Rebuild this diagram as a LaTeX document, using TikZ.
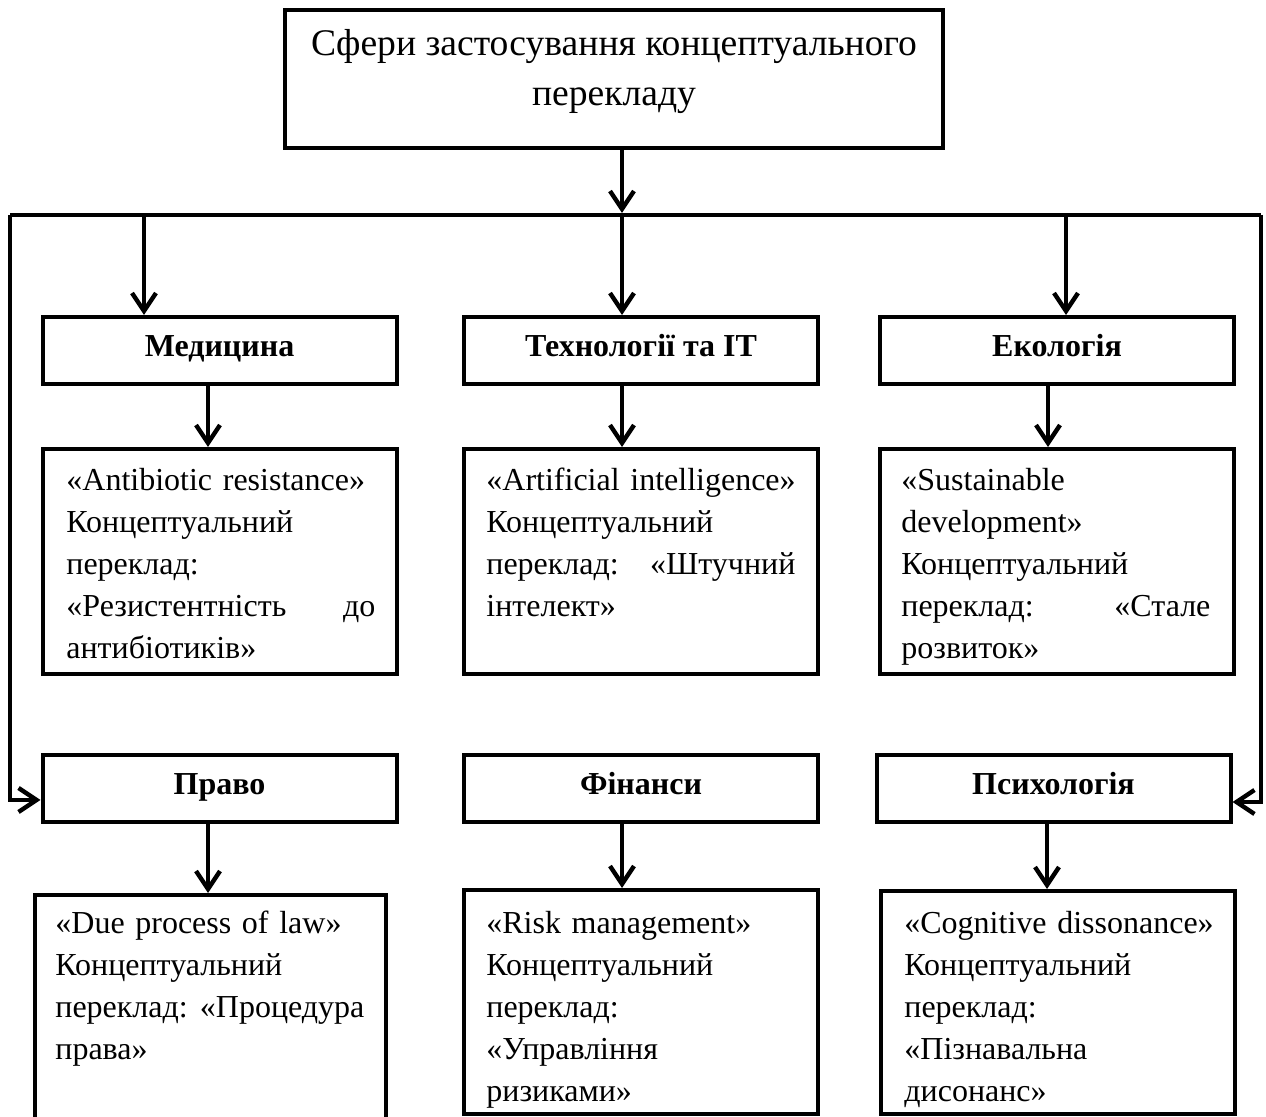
\documentclass[tikz,border=0pt]{standalone}
\usepackage{fontspec}
\setmainfont{Liberation Serif}
\usetikzlibrary{arrows.meta, positioning, calc}

\tikzset{
  hbox/.style={draw, line width=2pt, minimum width=177pt, minimum height=33.5pt, inner sep=0pt,
    text height=10pt, text depth=3.5pt, font=\fontsize{16}{21}\selectfont\bfseries},
  tbox/.style={draw, line width=2pt, minimum width=177pt, inner sep=0pt},
  txt/.style={anchor=north west, inner sep=0pt, text width=154.5pt, align=left,
    font=\fontsize{16}{21}\selectfont},
  arr/.style={line width=2.2pt, -{Straight Barb[length=9pt, width=12pt]}},
}

\begin{document}
\begin{tikzpicture}[x=0.5pt, y=-0.5pt]
\useasboundingbox (0,0) rectangle (1266,1117);
\clip (0,0) rectangle (1266,1117);

% top box
\node[draw, line width=2.4pt, minimum width=329pt, minimum height=69pt] (top) at (614,79) {};
\node[anchor=north, inner sep=0pt, align=center, font=\fontsize{18.8}{25}\selectfont] (title) at (614,20)
  {\strut Сфери застосування концептуального\\перекладу};

% headings
\node[hbox] (med)   at (219.5,350.5) {Медицина};
\node[hbox] (tech)  at (641,350.5)   {Технології та ІТ};
\node[hbox] (eco)   at (1057,350.5)  {Екологія};
\node[hbox] (law)   at (219.5,788.5) {Право};
\node[hbox] (fin)   at (641,788.5)   {Фінанси};
\node[hbox] (psy)   at (1053.5,788.5){Психологія};

% frames of the examples
\node[tbox, minimum height=112.5pt] (medbox)  at (219.5,561.5) {};
\node[tbox, minimum height=112.5pt] (techbox) at (641,561.5)   {};
\node[tbox, minimum height=112.5pt] (ecobox)  at (1057,561.5)  {};
\node[tbox, minimum width=175.5pt, minimum height=115pt] (lawbox) at (210.5,1010) {};
\node[tbox, minimum height=112pt]   (finbox)  at (641,1002)    {};
\node[tbox, minimum height=111.5pt] (psybox)  at (1058,1002.5) {};

% examples
\node[txt] (medtxt) at (66,460.6) {\strut\mbox{«Antibiotic resistance»}\\Концептуальний\\переклад:\\«Резистентність\hfill до\\антибіотиків»};
\node[txt] (techtxt) at (486,460.6) {\strut\mbox{«Artificial intelligence»}\\Концептуальний\\переклад:\hfill«Штучний\\інтелект»};
\node[txt] (ecotxt) at (901,460.6) {\strut«Sustainable\\development»\\Концептуальний\\переклад:\hfill«Стале\\розвиток»};
\node[txt] (lawtxt) at (55,903.6) {\strut\mbox{«Due process of law»}\\Концептуальний\\переклад:\hfill«Процедура\\права»};
\node[txt] (fintxt) at (486,903.6) {\strut\mbox{«Risk management»}\\Концептуальний\\переклад:\\«Управління\\ризиками»};
\node[txt] (psytxt) at (904,903.6) {\strut\mbox{«Cognitive dissonance»}\\Концептуальний\\переклад:\\«Пізнавальна\\дисонанс»};

% bus
\coordinate (busL) at (10,215);
\coordinate (busR) at (1261,215);
\coordinate (bus1) at (144,215);
\coordinate (bus2) at (622,215);
\coordinate (bus3) at (1066,215);
\coordinate (lbend) at (10,800);
\coordinate (rbend) at (1261,802);

\draw[line width=2.4pt] (busL) -- (busR);
\draw[arr] (top.south -| bus2) -- ([yshift=1pt]bus2);
\draw[arr] (bus1) -- (bus1 |- med.north);
\draw[arr] (bus2) -- (bus2 |- tech.north);
\draw[arr] (bus3) -- (bus3 |- eco.north);
\draw[arr] (busL) -- (lbend) -- (lbend -| law.west);
\draw[arr] (busR) -- (rbend) -- (rbend -| psy.east);

% heading -> example
\draw[arr] ([xshift=-5.75pt]med.south) -- ([xshift=-5.75pt]med.south |- medbox.north);
\draw[arr] ([xshift=-9.5pt]tech.south) -- ([xshift=-9.5pt]tech.south |- techbox.north);
\draw[arr] ([xshift=-4.5pt]eco.south) -- ([xshift=-4.5pt]eco.south |- ecobox.north);
\draw[arr] ([xshift=-5.75pt]law.south) -- ([xshift=-5.75pt]law.south |- lawbox.north);
\draw[arr] ([xshift=-9.5pt]fin.south) -- ([xshift=-9.5pt]fin.south |- finbox.north);
\draw[arr] ([xshift=-3.25pt]psy.south) -- ([xshift=-3.25pt]psy.south |- psybox.north);
\end{tikzpicture}
\end{document}
